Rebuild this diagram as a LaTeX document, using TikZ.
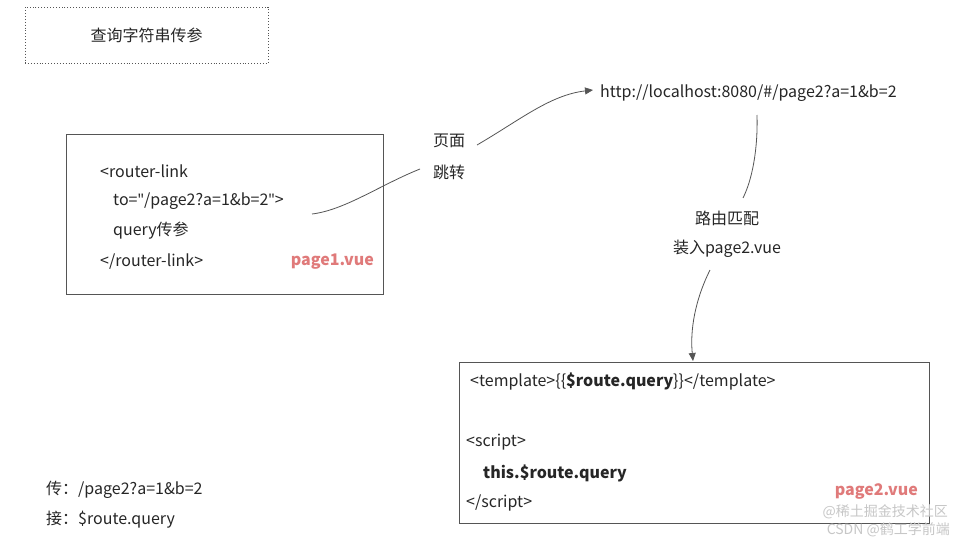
\documentclass[tikz,border=0pt]{standalone}
\usepackage{fontspec}
\setmainfont{Noto Sans CJK SC}
\newfontfamily\qf{Noto Sans}
\newcommand{\dq}{{\qf\symbol{34}}}
\usetikzlibrary{arrows.meta}
\definecolor{vue}{HTML}{E07A7A}
\definecolor{ln}{HTML}{555555}
\begin{document}
\begin{tikzpicture}[x=1pt,y=-1pt,
  txt/.style={font=\fontsize{16}{19}\selectfont,text=black!85,inner sep=0pt},
  lt/.style={txt,anchor=west},
  fn/.style={txt,anchor=east,font=\fontsize{16}{19}\selectfont\bfseries,text=vue},
  box/.style={draw=ln,line width=0.8pt},
  con/.style={draw=ln,line width=0.8pt},
  arr/.style={con,-{Triangle[length=8pt,width=7pt]}}]
\useasboundingbox[fill=white] (0,0) rectangle (966,544);
\node[draw=ln,dotted,line width=0.9pt,minimum width=243pt,minimum height=56pt,inner sep=0pt] (title) at (146.5,35) {};
\node[txt] at (title) {查询字符串传参};
\node[box,minimum width=317pt,minimum height=160pt,inner sep=0pt] (p1) at (224.5,214) {};
\node[lt] (l1) at (100,171) {<router-link};
\node[lt] (l2) at (113,201) {to=\dq/page2?a=1\&b=2\dq>};
\node[lt] (l3) at (113,231) {query传参};
\node[lt] (l4) at (100,262) {</router-link>};
\node[fn] (f1) at (374,262) {page1.vue};
\node[txt] (j1) at (449,141) {页面};
\node[txt] (j2) at (449,172) {跳转};
\node[lt] (url) at (600,93) {http://localhost:8080/\#/page2?a=1\&b=2};
\coordinate (c1) at (312,214);
\coordinate (c2) at (420,169);
\coordinate (c3) at (477,145);
\coordinate (c4) at (593,90);
\draw[con] (c1) .. controls (345,210) and (380,185) .. (c2);
\draw[arr] (c3) .. controls (520,120) and (550,95) .. (c4);
\node[txt] (m1) at (727,218) {路由匹配};
\node[txt] (m2) at (727,249) {装入page2.vue};
\coordinate (d1) at (757,115);
\coordinate (d2) at (743,198);
\coordinate (d3) at (710,270);
\coordinate (d4) at (693,361);
\draw[con] (d1) .. controls (758,150) and (752,180) .. (d2);
\draw[arr] (d3) .. controls (695,300) and (690,330) .. (d4);
\node[box,minimum width=470pt,minimum height=161pt,inner sep=0pt] (p2) at (694,442.5) {};
\node[lt] (t1) at (470,382) {<template>\{\{\textbf{\$route.query}\}\}</template>};
\node[lt] (t2) at (466,442) {<script>};
\node[lt] (t3) at (483,473) {\textbf{this.\$route.query}};
\node[lt] (t4) at (466,503) {</script>};
\node[fn] (f2) at (918,491) {page2.vue};
\node[lt] (b1) at (46,490) {传：/page2?a=1\&b=2};
\node[lt] (b2) at (46,520) {接：\$route.query};
\node[txt,anchor=east,text=black!22,font=\fontsize{14}{16}\selectfont] (w1) at (948,512) {@稀土掘金技术社区};
\node[txt,anchor=east,text=black!22,font=\fontsize{14}{16}\selectfont] (w2) at (950,530) {CSDN @鹤工学前端};
\end{tikzpicture}
\end{document}
